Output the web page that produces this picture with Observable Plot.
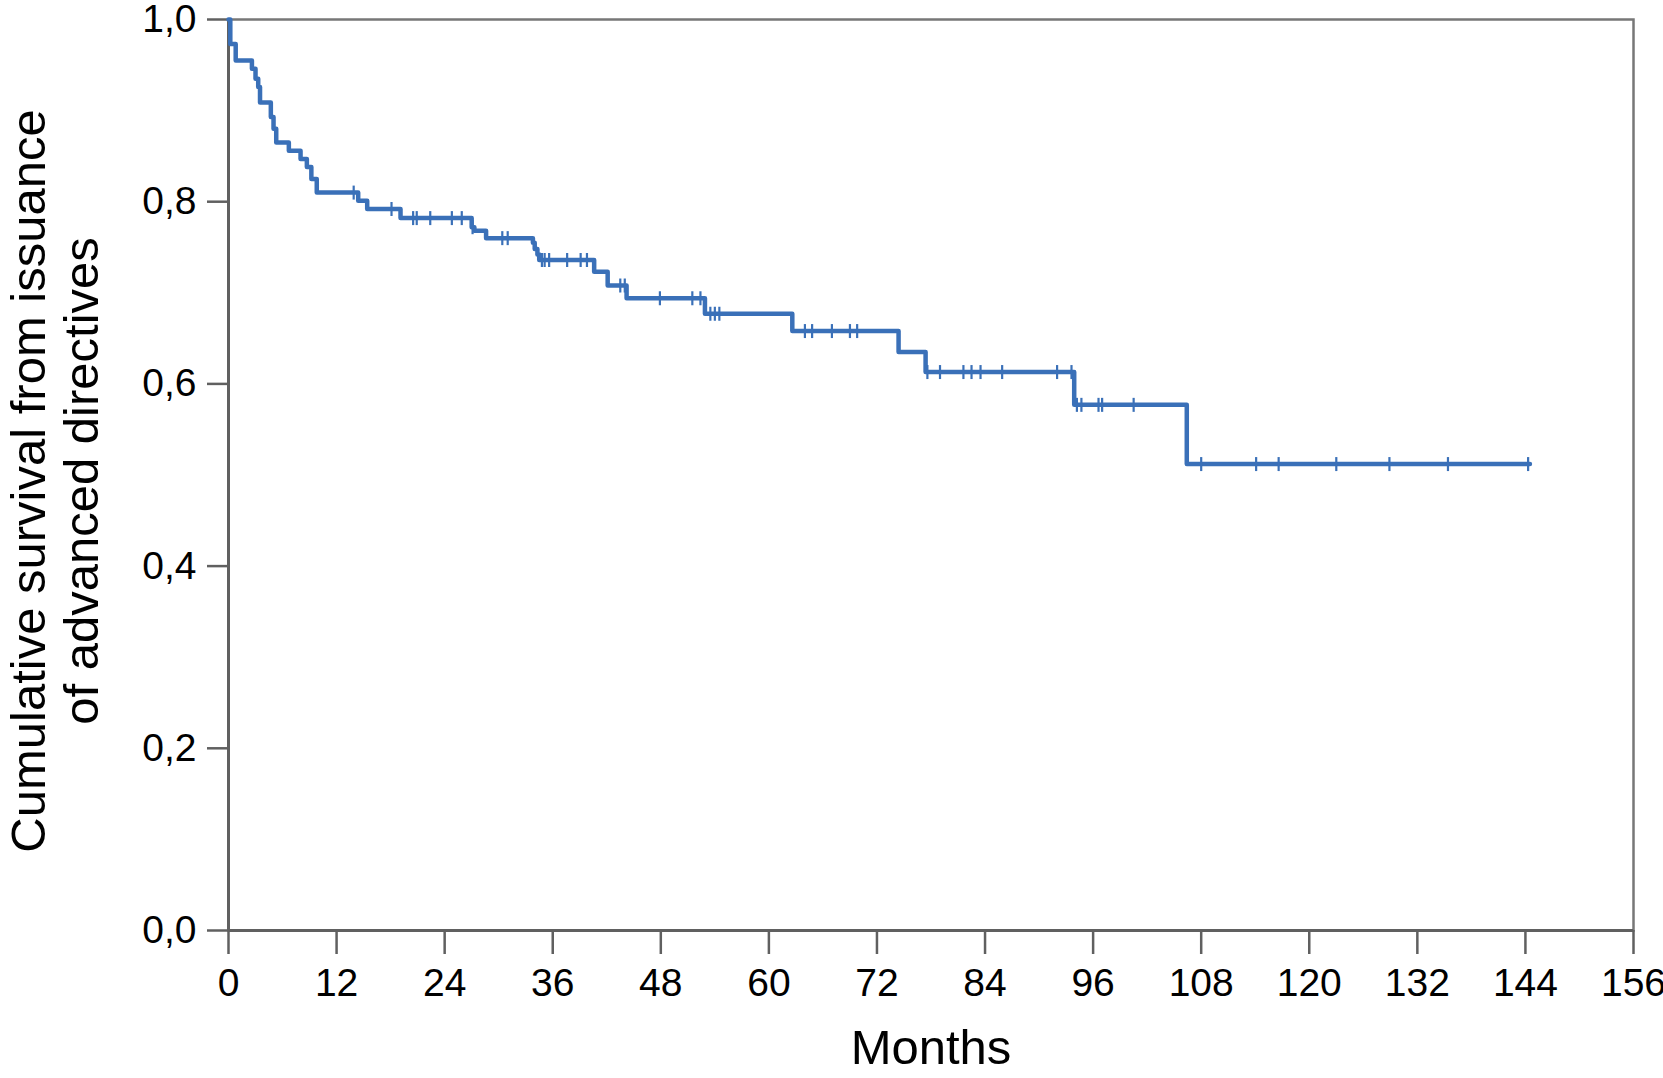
<!DOCTYPE html>
<html>
<head>
<meta charset="utf-8">
<script src="https://cdn.jsdelivr.net/npm/d3@7"></script>
<script src="https://cdn.jsdelivr.net/npm/@observablehq/plot@0.6"></script>
<style>
  html, body { margin: 0; padding: 0; background: #fff; }
  svg { overflow: visible; }
</style>
</head>
<body>
<div id="chart"></div>
<script>
// Kaplan–Meier step data (months, cumulative survival after the step)
const months = [0, 0.2, 0.8, 2.6, 3.0, 3.3, 3.5, 4.7, 5.0, 5.3, 6.7, 8.0, 8.7, 9.2, 9.8, 14.4, 15.4, 19.1, 27.0, 27.3, 28.6, 33.8, 34.0, 34.3, 34.5, 40.6, 42.1, 44.2, 52.9, 62.6, 74.4, 77.4, 93.9, 106.4, 144.5];
const survival = [1.0, 0.973, 0.955, 0.946, 0.935, 0.926, 0.909, 0.893, 0.880, 0.865, 0.856, 0.847, 0.838, 0.825, 0.810, 0.801, 0.792, 0.782, 0.772, 0.768, 0.760, 0.755, 0.748, 0.742, 0.736, 0.723, 0.708, 0.694, 0.677, 0.658, 0.635, 0.613, 0.577, 0.512, 0.512];

// censored observations (months)
const censoredMonths = [13.9, 18.1, 20.5, 20.9, 22.4, 24.8, 25.9, 27.1, 30.4, 31.0, 34.8, 35.1, 35.6, 37.6, 39.1, 39.8, 43.5, 44.0, 47.9, 51.5, 52.4, 53.5, 54.0, 54.5, 64.0, 64.8, 67.0, 69.0, 69.8, 77.6, 79.0, 81.6, 82.5, 83.5, 85.9, 92.0, 93.6, 94.2, 94.7, 96.6, 97.0, 100.5, 108.0, 114.1, 116.6, 123.0, 128.9, 135.4, 144.3];

const xTicks = [0, 12, 24, 36, 48, 60, 72, 84, 96, 108, 120, 132, 144, 156];
const yTicks = [0, 0.2, 0.4, 0.6, 0.8, 1.0];

const xTitle = "Months";
const yTitle = "Cumulative survival from issuance\nof advanced directives";

const km = months.map((m, i) => ({month: m, s: survival[i]}));
function survivalAt(t) {
  let s = survival[0];
  for (let i = 0; i < months.length; i++) if (months[i] <= t) s = survival[i];
  return s;
}
const cens = censoredMonths.map(m => ({month: m, s: survivalAt(m)}));

const vtick = {
  draw(context, size) {
    const r = Math.sqrt(size / Math.PI);
    context.moveTo(0, -r);
    context.lineTo(0, r);
  }
};

const blue = "#3a70b8";
const axisGray = "#606060";

const chart = Plot.plot({
  width: 1663,
  height: 1078,
  marginLeft: 228,
  marginRight: 30,
  marginTop: 19,
  marginBottom: 148,
  x: {domain: [0, 156]},
  y: {domain: [0, 1]},
  style: {fontFamily: "'Liberation Sans', Arial, sans-serif", fontSize: "39px", background: "#fff", color: "#000", overflow: "visible"},
  marks: [
    Plot.frame({stroke: "#777", strokeWidth: 2.5}),
    Plot.axisX({ticks: xTicks, tickSize: 24, tickPadding: 14, stroke: axisGray, strokeWidth: 2.5, label: null, fontSize: 39, tickFormat: d => String(d)}),
    Plot.axisY({ticks: yTicks, tickSize: 21, tickPadding: 11, stroke: axisGray, strokeWidth: 2.5, label: null, fontSize: 39, tickFormat: d => d.toFixed(1).replace(".", ",")}),
    Plot.ruleX([0], {stroke: axisGray, strokeWidth: 3}),
    Plot.ruleY([0], {stroke: axisGray, strokeWidth: 3}),
    Plot.line(km, {x: "month", y: "s", curve: "step-after", stroke: blue, strokeWidth: 4.5}),
    Plot.dot(cens, {x: "month", y: "s", symbol: vtick, r: 7, stroke: blue, strokeWidth: 2.2}),
    Plot.text([xTitle], {text: d => d, frameAnchor: "bottom", lineAnchor: "top", dy: 99, fontSize: 49, fill: "#000"}),
    Plot.text([yTitle], {text: d => d, frameAnchor: "left", textAnchor: "middle", lineAnchor: "middle", rotate: -90, dx: -174, dy: 6, fontSize: 49, lineHeight: 1.07, fill: "#000"})
  ]
});
document.getElementById("chart").appendChild(chart);
</script>
</body>
</html>
